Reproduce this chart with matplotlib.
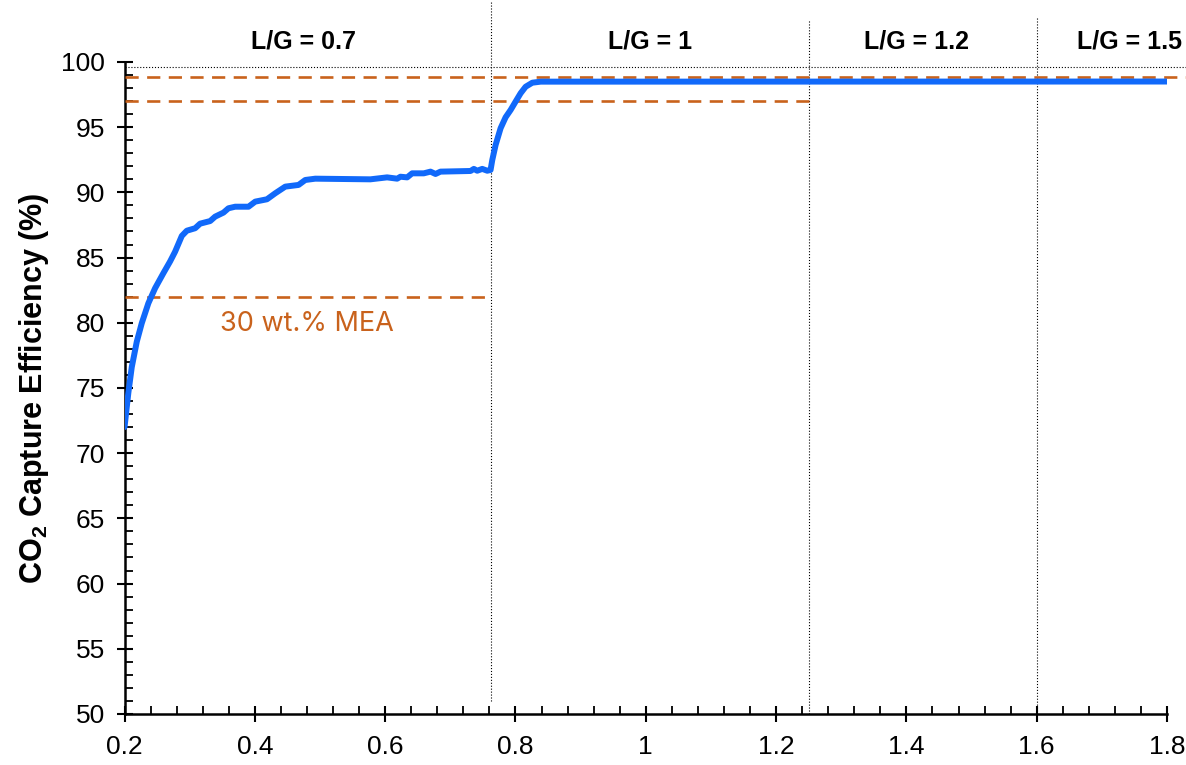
import matplotlib.pyplot as plt
from matplotlib.ticker import MultipleLocator, FuncFormatter

# liquid-to-gas ratio vs capture efficiency
lg_ratio = [0.200, 0.2058, 0.2111, 0.2188, 0.2264, 0.2366, 0.2469, 0.2596, 0.2699, 0.2776,
            0.2879, 0.2956, 0.3084, 0.3160, 0.3314, 0.3391, 0.3519, 0.3595, 0.3698, 0.3903,
            0.4006, 0.4186, 0.4313, 0.4467, 0.4671, 0.4774, 0.4928, 0.5773, 0.6030, 0.6184,
            0.6235, 0.6338, 0.6414, 0.6593, 0.6696, 0.6773, 0.6849, 0.7311, 0.7361, 0.7413,
            0.7490, 0.7567, 0.7618, 0.7644, 0.7695, 0.7772, 0.7849, 0.7926, 0.8002, 0.8079,
            0.8156, 0.8259, 0.8387, 1.8]
efficiency = [72.0, 74.6, 76.6, 78.55, 79.96, 81.5, 82.65, 83.8, 84.7, 85.45,
              86.66, 87.06, 87.25, 87.6, 87.8, 88.14, 88.45, 88.78, 88.9, 88.9,
              89.29, 89.47, 89.93, 90.44, 90.57, 90.95, 91.05, 91.0, 91.15, 91.05,
              91.2, 91.15, 91.46, 91.46, 91.59, 91.41, 91.59, 91.64, 91.8, 91.66,
              91.8, 91.66, 91.72, 92.48, 93.63, 94.92, 95.76, 96.32, 96.96, 97.6,
              98.1, 98.41, 98.49, 98.5]

# regime boundaries and labels
bounds = [0.7625, 1.25, 1.6]
bound_bottom = [51.0, 50.0, 50.0]
bound_top = [104.6, 103.2, 103.4]
regime_labels = ["L/G = 0.7", "L/G = 1", "L/G = 1.2", "L/G = 1.5"]
regime_x = [0.475, 1.007, 1.416, 1.742]

# MEA reference lines: level, x start, x end
mea_levels = [98.85, 97.0, 82.0]
mea_x0 = [0.2, 0.2, 0.2]
mea_x1 = [1.832, 1.261, 0.7625]

blue = '#1169FA'
orange = '#C9621C'

plt.rcParams['font.family'] = ['Liberation Sans', 'DejaVu Sans']

fig = plt.figure(figsize=(11.86, 7.65), dpi=100)
ax = fig.add_axes([0.105, 0.0667, 0.879, 0.8523])

ax.plot(lg_ratio, efficiency, color=blue, lw=4.3, solid_capstyle='round', zorder=5)

for lvl, a, b in zip(mea_levels, mea_x0, mea_x1):
    ax.plot([a, b], [lvl, lvl], color=orange, lw=1.9, dashes=(5, 3.2), clip_on=False, zorder=3)

# top dotted line
ax.plot([0.2, 1.832], [99.6, 99.6], color='k', lw=0.8, ls=':', clip_on=False, zorder=2)

for xb, y0, y1 in zip(bounds, bound_bottom, bound_top):
    ax.plot([xb, xb], [y0, y1], color='k', lw=0.8, ls=':', clip_on=False, zorder=2)

for txt, xt in zip(regime_labels, regime_x):
    ax.text(xt, 101.55, txt, ha='center', va='center', fontsize=18, fontweight='bold')

ax.text(0.4805, 79.9, "30 wt.% MEA", color=orange, ha='center', va='center',
        fontsize=19.5, family=['Inter', 'DejaVu Sans'])

ax.set_xlim(0.2, 1.8)
ax.set_ylim(50, 100)
ax.xaxis.set_major_locator(MultipleLocator(0.2))
ax.xaxis.set_minor_locator(MultipleLocator(0.04))
ax.yaxis.set_major_locator(MultipleLocator(5))
ax.yaxis.set_minor_locator(MultipleLocator(1))
ax.xaxis.set_major_formatter(FuncFormatter(lambda v, p: f"{v:g}"))

for s in ['top', 'right']:
    ax.spines[s].set_visible(False)
for s in ['left', 'bottom']:
    ax.spines[s].set_linewidth(1.8)

ax.tick_params(which='major', direction='inout', length=12, width=1.5, labelsize=19)
ax.tick_params(axis='x', which='major', pad=9)
ax.tick_params(axis='y', which='major', pad=8)
ax.tick_params(which='minor', direction='in', length=5.5, width=1.3)

ax.set_ylabel("CO$_\\mathregular{2}$ Capture Efficiency (%)", fontsize=22, fontweight='bold', labelpad=7)

fig.savefig('out.png', dpi=100)
